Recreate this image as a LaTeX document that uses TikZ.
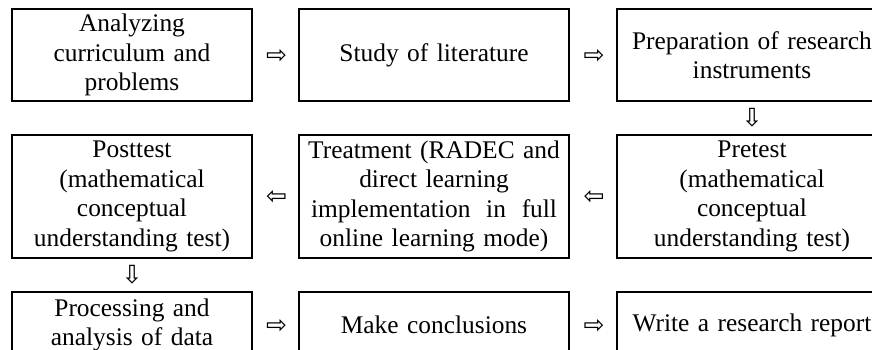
\documentclass[tikz,border=0pt]{standalone}
\usepackage{fontspec}
\setmainfont{Liberation Serif}
\newfontfamily\arrowfont{DejaVu Sans}
\usetikzlibrary{calc}
\tikzset{
  box/.style={draw, line width=1.1pt, rectangle, inner sep=0pt, align=center,
    font=\fontsize{25.4}{29.6}\selectfont},
  wA/.style={box, minimum width=240pt, text width=226pt},
  wB/.style={box, minimum width=270pt, text width=256pt},
  rowA/.style={minimum height=92pt},
  rowB/.style={minimum height=123pt},
  rowC/.style={minimum height=66pt},
  arr/.style={inner sep=0pt, font=\arrowfont\fontsize{25}{25}\selectfont}
}
\begin{document}
\begin{tikzpicture}[x=1pt,y=-1pt]
\useasboundingbox (0,0) rectangle (872,350);
\clip (0,0) rectangle (872,350);
\fill[white] (0,0) rectangle (872,350);
% row 1
\node[wA,rowA] (b1) at (132,55) {Analyzing\\curriculum and\\problems};
\node[wB,rowA] (b2) at (434,55) {Study of literature};
\node[wB,rowA] (b3) at (752,55) {Preparation of research\\instruments};
% row 2
\node[wA,rowB] (b6) at (132,196.5) {Posttest\\(mathematical\\conceptual\\understanding test)};
\node[wB,rowB] (b5) at (434,196.5) {\mbox{Treatment (RADEC and}\\direct learning\\\makebox[246pt]{implementation\hfill in\hfill full}\\online learning mode)};
\node[wB,rowB] (b4) at (752,196.5) {Pretest\\(mathematical\\conceptual\\understanding test)};
% row 3
\node[wA,rowC] (b7) at (132,325) {Processing and\\analysis of data};
\node[wB,rowC] (b8) at (434,325) {Make conclusions};
\node[wB,rowC] (b9) at (752,325) {Write a research report};
% arrows
\node[arr] (a12) at ($(b1.east)!0.5!(b2.west)+(1,1)$) {⇨};
\node[arr] (a23) at ($(b2.east)!0.5!(b3.west)+(1,1)$) {⇨};
\node[arr] (a34) at ($(b3.south)!0.5!(b4.north)$) {⇩};
\node[arr] (a45) at ($(b5.east)!0.5!(b4.west)+(1,0.5)$) {⇦};
\node[arr] (a56) at ($(b6.east)!0.5!(b5.west)+(1,0.5)$) {⇦};
\node[arr] (a67) at ($(b6.south)!0.5!(b7.north)$) {⇩};
\node[arr] (a78) at ($(b7.east)!0.5!(b8.west)+(1,1)$) {⇨};
\node[arr] (a89) at ($(b8.east)!0.5!(b9.west)+(1,1)$) {⇨};
\end{tikzpicture}
\end{document}
